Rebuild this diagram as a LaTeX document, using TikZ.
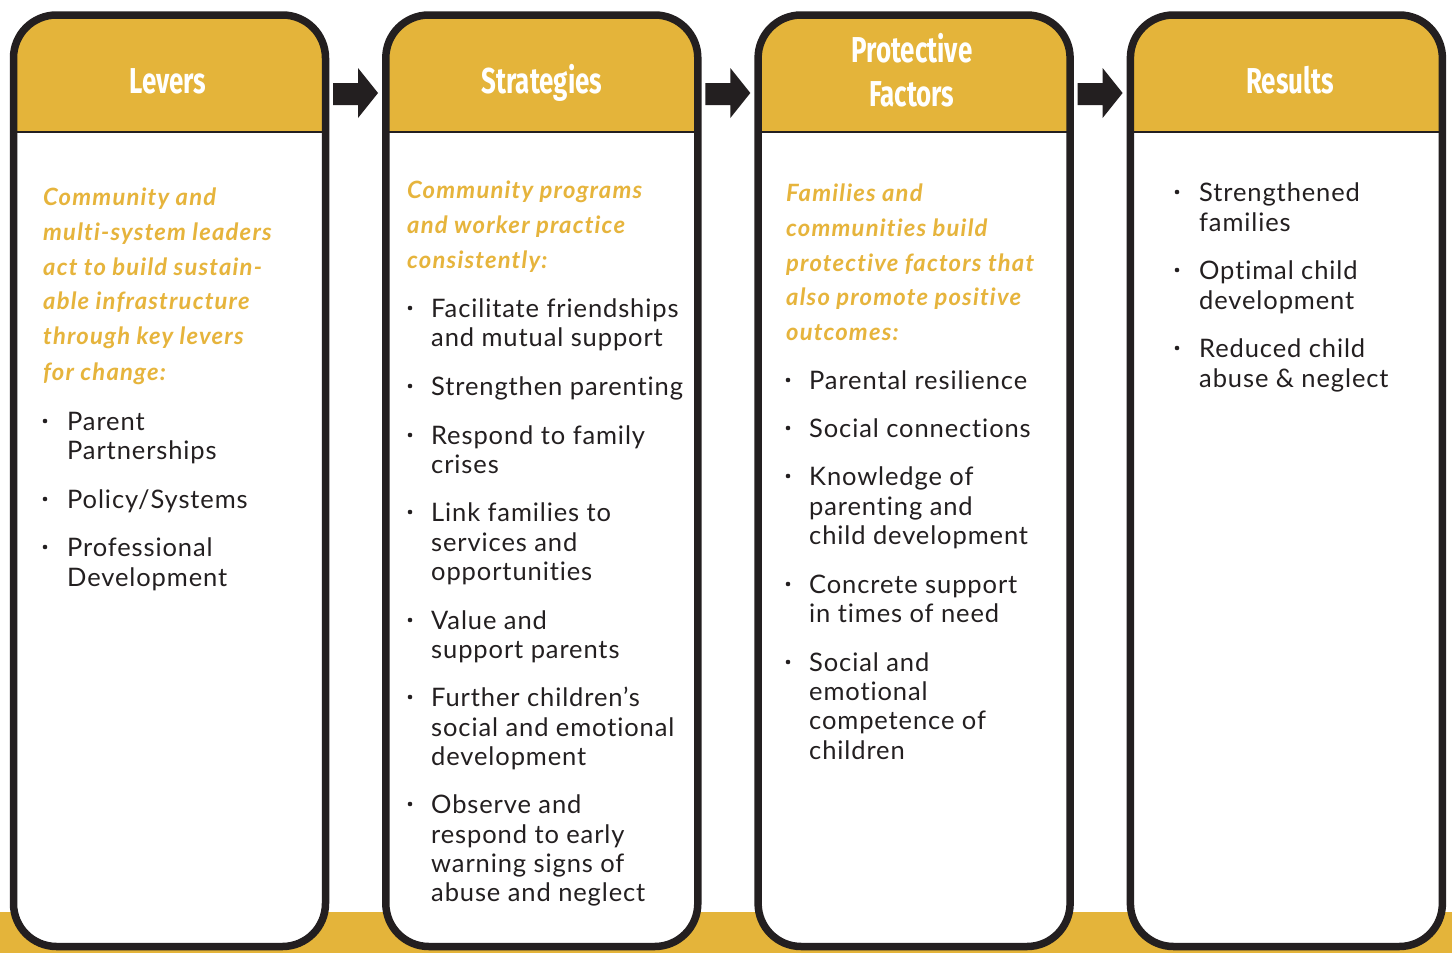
\documentclass[tikz,border=0pt]{standalone}
\usepackage{fontspec}
\setmainfont{Lato}
\newfontfamily\bodyfont[LetterSpace=3.5,Ligatures=NoCommon]{Lato}
\newfontfamily\goldfont[LetterSpace=5,Ligatures=NoCommon]{Lato}
\newfontfamily\hfont[FakeStretch=0.72]{Fira Sans}
\definecolor{gold}{HTML}{E4B43A}
\definecolor{igold}{HTML}{E6B43C}
\definecolor{ink}{HTML}{231F20}
\tikzset{
  bodytext/.style={anchor=base west, inner sep=0pt, text=ink, font=\bodyfont\fontsize{25.5}{30}\selectfont},
  goldtext/.style={anchor=base west, inner sep=0pt, text=igold, font=\goldfont\fontsize{23.8}{30}\selectfont\bfseries\itshape},
  headtext/.style={anchor=base, inner sep=0pt, text=white, font=\fontsize{36}{40}\selectfont\hfont\bfseries},
  boxline/.style={draw=ink, line width=7.5pt, rounded corners=43pt},
  arrowfill/.style={fill=ink}
}
\newcommand\tl[4]{\node[bodytext] (#1) at (#2,#3) {#4};}
\newcommand\gl[4]{\node[goldtext] (#1) at (#2,#3) {#4};}
\newcommand\bul[2]{\fill[ink] (#1,#2-9) circle (2.3pt);}
\begin{document}
\begin{tikzpicture}[x=1pt,y=-1pt]
\useasboundingbox (0,0) rectangle (1452,953);
\fill[white] (0,0) rectangle (1452,953);
% bottom gold strip
\fill[gold] (0,912) rectangle (1452,953);
% boxes
\foreach \i in {0,1,2,3}{
  \pgfmathsetmacro\xa{13.5+372.3*\i}
  \pgfmathsetmacro\xb{325.5+372.3*\i}
  \fill[white, rounded corners=43pt] (\xa,946.5) -- (\xa,15) -- (\xb,15) -- (\xb,946.5) -- cycle;
  \begin{scope}
    \clip[rounded corners=43pt] (\xa,946.5) -- (\xa,15) -- (\xb,15) -- (\xb,946.5) -- cycle;
    \fill[gold] (\xa-10,0) rectangle (\xb+10,132);
  \end{scope}
  \draw[ink, line width=1.6pt] (\xa,132) -- (\xb,132);
  \draw[boxline] (\xa,946.5) -- (\xa,15) -- (\xb,15) -- (\xb,946.5) -- cycle;
}
% arrows between boxes
\foreach \i in {0,1,2}{
  \pgfmathsetmacro\xs{333+372.3*\i}
  \pgfmathsetmacro\xm{358+372.3*\i}
  \pgfmathsetmacro\xt{378+372.3*\i}
  \coordinate (a\i s) at (\xs,94);
  \coordinate (a\i t) at (\xt,93);
  \fill[arrowfill] (\xs,83) -- (\xm,83) -- (\xm,68) -- (\xt,93) -- (\xm,118) -- (\xm,105) -- (\xs,105) -- cycle;
}
% headers
\node[headtext] (h0) at (168,93) {Levers};
\node[headtext] (h1) at (542,93) {Strategies};
\node[headtext] (h2a) at (912,62) {Protective};
\node[headtext] (h2b) at (912,106) {Factors};
\node[headtext] (h3) at (1290,93) {Results};
% column 1
\gl{c1g1}{43}{205}{Community and}
\gl{c1g2}{43}{240}{multi-system leaders}
\gl{c1g3}{43}{275}{act to build sustain-}
\gl{c1g4}{43}{309}{able infrastructure}
\gl{c1g5}{43}{344}{through key levers}
\gl{c1g6}{43}{380}{for change:}
\bul{45}{430}\tl{c1a1}{67}{430}{Parent}
\tl{c1a2}{67}{459}{Partnerships}
\bul{45}{508}\tl{c1b1}{67}{508}{Policy/Systems}
\bul{45}{556}\tl{c1c1}{67}{556}{Professional}
\tl{c1c2}{67}{586}{Development}
% column 2
\gl{c2g1}{407}{198}{Community programs}
\gl{c2g2}{407}{233}{and worker practice}
\gl{c2g3}{407}{268}{consistently:}
\bul{410}{317}\tl{c2a1}{431}{317}{Facilitate friendships}
\tl{c2a2}{431}{346}{and mutual support}
\bul{410}{395}\tl{c2b1}{431}{395}{Strengthen parenting}
\bul{410}{444}\tl{c2c1}{431}{444}{Respond to family}
\tl{c2c2}{431}{473}{crises}
\bul{410}{521}\tl{c2d1}{431}{521}{Link families to}
\tl{c2d2}{431}{551}{services and}
\tl{c2d3}{431}{580}{opportunities}
\bul{410}{629}\tl{c2e1}{431}{629}{Value and}
\tl{c2e2}{431}{658}{support parents}
\bul{410}{706}\tl{c2f1}{431}{706}{Further children’s}
\tl{c2f2}{431}{736}{social and emotional}
\tl{c2f3}{431}{765}{development}
\bul{410}{813}\tl{c2g1}{431}{813}{Observe and}
\tl{c2g2}{431}{843}{respond to early}
\tl{c2g3}{431}{872}{warning signs of}
\tl{c2g4}{431}{901}{abuse and neglect}
% column 3
\gl{c3g1}{786}{201}{Families and}
\gl{c3g2}{786}{236}{communities build}
\gl{c3g3}{786}{271}{protective factors that}
\gl{c3g4}{786}{305}{also promote positive}
\gl{c3g5}{786}{340}{outcomes:}
\bul{788}{389}\tl{c3a1}{809}{389}{Parental resilience}
\bul{788}{437}\tl{c3b1}{809}{437}{Social connections}
\bul{788}{485}\tl{c3c1}{809}{485}{Knowledge of}
\tl{c3c2}{809}{515}{parenting and}
\tl{c3c3}{809}{544}{child development}
\bul{788}{593}\tl{c3d1}{809}{593}{Concrete support}
\tl{c3d2}{809}{622}{in times of need}
\bul{788}{671}\tl{c3e1}{809}{671}{Social and}
\tl{c3e2}{809}{700}{emotional}
\tl{c3e3}{809}{729}{competence of}
\tl{c3e4}{809}{759}{children}
% column 4
\bul{1177}{201}\tl{c4a1}{1199}{201}{Strengthened}
\tl{c4a2}{1199}{231}{families}
\bul{1177}{279}\tl{c4b1}{1199}{279}{Optimal child}
\tl{c4b2}{1199}{309}{development}
\bul{1177}{357}\tl{c4c1}{1199}{357}{Reduced child}
\tl{c4c2}{1199}{387}{abuse \& neglect}
\end{tikzpicture}
\end{document}
